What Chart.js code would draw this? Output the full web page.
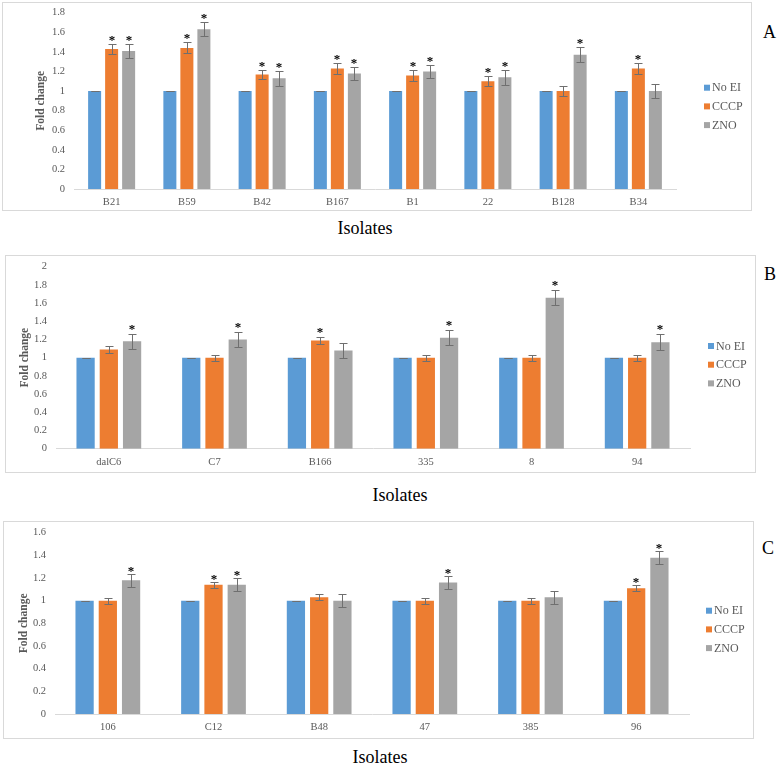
<!DOCTYPE html>
<html lang="en">
<head>
<meta charset="UTF-8">
<title>Fold change by isolate</title>
<script src="https://cdn.jsdelivr.net/npm/chart.js"></script>
<style>
    body {
        margin: 0;
        background: #fff;
        width: 777px;
        height: 764px;
        position: relative;
        overflow: hidden;
        font-family: "Liberation Serif", "Times New Roman", serif;
    }
    .box {
        position: absolute;
        border: 1px solid #d9d9d9;
        background: #fff;
    }
    .box canvas {
        display: block;
    }
    .xlabel, .tag {
        position: absolute;
        font-size: 18px;
        color: #000;
        line-height: 1;
        white-space: nowrap;
    }
    .xlabel {
        transform: translate(-50%, -50%);
    }
    .tag {
        transform: translateY(-50%);
    }
</style>
</head>
<body>
    <div class="box" style="left:2px;top:2px;width:748px;height:207px;"><canvas id="chartA" width="748" height="207"></canvas></div>
    <div class="xlabel" style="left:365px;top:228px;">Isolates</div>
    <div class="tag" style="left:763px;top:32px;">A</div>

    <div class="box" style="left:5px;top:255px;width:749px;height:216px;"><canvas id="chartB" width="749" height="216"></canvas></div>
    <div class="xlabel" style="left:400px;top:495px;">Isolates</div>
    <div class="tag" style="left:764px;top:274px;">B</div>

    <div class="box" style="left:3px;top:521px;width:749px;height:216px;"><canvas id="chartC" width="749" height="216"></canvas></div>
    <div class="xlabel" style="left:380px;top:757px;">Isolates</div>
    <div class="tag" style="left:762px;top:548px;">C</div>

<script>
    const SERIF = "'Liberation Serif', 'Times New Roman', serif";

    // series
    const seriesNames = ["No EI", "CCCP", "ZNO"];
    const seriesColors = ["#5B9BD5", "#ED7D31", "#A5A5A5"];

    // panel A
    const isolatesA = ["B21", "B59", "B42", "B167", "B1", "22", "B128", "B34"];
    const noEiA = [1, 1, 1, 1, 1, 1, 1, 1];
    const cccpA = [1.43, 1.44, 1.17, 1.23, 1.16, 1.10, 1.00, 1.23];
    const znoA = [1.41, 1.63, 1.13, 1.18, 1.20, 1.14, 1.37, 1.00];
    const noEiErrA = [0, 0, 0, 0, 0, 0, 0, 0];
    const cccpErrA = [0.055, 0.056, 0.05, 0.055, 0.055, 0.05, 0.055, 0.055];
    const znoErrA = [0.075, 0.07, 0.075, 0.07, 0.07, 0.075, 0.075, 0.07];
    const cccpStarA = [1, 1, 1, 1, 1, 1, 0, 1];
    const znoStarA = [1, 1, 1, 1, 1, 1, 1, 0];

    // panel B
    const isolatesB = ["dalC6", "C7", "B166", "335", "8", "94"];
    const noEiB = [1, 1, 1, 1, 1, 1];
    const cccpB = [1.09, 1.00, 1.19, 1.00, 1.00, 1.00];
    const znoB = [1.18, 1.20, 1.08, 1.22, 1.66, 1.17];
    const noEiErrB = [0, 0, 0, 0, 0, 0];
    const cccpErrB = [0.035, 0.035, 0.035, 0.035, 0.035, 0.035];
    const znoErrB = [0.085, 0.085, 0.085, 0.085, 0.085, 0.085];
    const cccpStarB = [0, 0, 1, 0, 0, 0];
    const znoStarB = [1, 1, 0, 1, 1, 1];

    // panel C
    const isolatesC = ["106", "C12", "B48", "47", "385", "96"];
    const noEiC = [1, 1, 1, 1, 1, 1];
    const cccpC = [1.00, 1.14, 1.03, 1.00, 1.00, 1.11];
    const znoC = [1.18, 1.14, 1.00, 1.16, 1.03, 1.38];
    const noEiErrC = [0, 0, 0, 0, 0, 0];
    const cccpErrC = [0.028, 0.028, 0.028, 0.028, 0.028, 0.028];
    const znoErrC = [0.057, 0.057, 0.057, 0.057, 0.057, 0.057];
    const cccpStarC = [0, 1, 0, 0, 0, 1];
    const znoStarC = [1, 1, 0, 1, 0, 1];

    const yTicksA = { max: 1.8, step: 0.2 };
    const yTicksB = { max: 2, step: 0.2 };
    const yTicksC = { max: 1.6, step: 0.2 };

    // error bars, asterisks and the side legend
    const extrasPlugin = {
        id: "extras",
        afterDatasetsDraw(chart, args, opts) {
            const ctx = chart.ctx;
            const y = chart.scales.y;
            ctx.save();
            chart.data.datasets.forEach((ds, i) => {
                const meta = chart.getDatasetMeta(i);
                meta.data.forEach((bar, j) => {
                    const v = ds.data[j], e = ds.err[j];
                    const top = Math.round(y.getPixelForValue(v + e)) + 0.5;
                    const bot = Math.round(y.getPixelForValue(v - e)) + 0.5;
                    const x = Math.round(bar.x) + 0.5;
                    ctx.strokeStyle = "#6f6f6f";
                    ctx.lineWidth = 1;
                    ctx.beginPath();
                    ctx.moveTo(x, top); ctx.lineTo(x, bot);
                    ctx.moveTo(x - opts.cap, top); ctx.lineTo(x + opts.cap, top);
                    ctx.moveTo(x - opts.cap, bot); ctx.lineTo(x + opts.cap, bot);
                    ctx.stroke();
                    if (ds.star[j]) {
                        ctx.fillStyle = "#000";
                        ctx.font = "bold 13px " + SERIF;
                        ctx.textAlign = "center";
                        ctx.textBaseline = "alphabetic";
                        ctx.fillText("*", Math.round(bar.x), top - opts.starGap);
                    }
                });
            });
            // legend
            ctx.font = "12px " + SERIF;
            ctx.textAlign = "left";
            ctx.textBaseline = "middle";
            chart.data.datasets.forEach((ds, i) => {
                const cy = opts.legY + i * opts.legStep;
                ctx.fillStyle = ds.backgroundColor;
                ctx.fillRect(opts.legX, cy - 3, 6, 6);
                ctx.fillStyle = "#595959";
                ctx.fillText(ds.label, opts.legX + 8, cy + 0.5);
            });
            ctx.restore();
        }
    };

    function makeChart(id, labels, values, errs, stars, ticks, geo) {
        const canvas = document.getElementById(id);
        const W = canvas.width, H = canvas.height;
        return new Chart(canvas, {
            type: "bar",
            data: {
                labels: labels,
                datasets: seriesNames.map((name, i) => ({
                    label: name,
                    data: values[i],
                    err: errs[i],
                    star: stars[i],
                    backgroundColor: seriesColors[i],
                    categoryPercentage: geo.catPct,
                    barPercentage: geo.barPct
                }))
            },
            options: {
                responsive: false,
                animation: false,
                devicePixelRatio: 1,
                layout: { padding: { left: 0, top: geo.top, right: W - geo.right, bottom: 0 } },
                plugins: {
                    legend: { display: false },
                    tooltip: { enabled: false },
                    extras: { cap: 4, starGap: geo.starGap, legX: geo.legX, legY: geo.legY, legStep: geo.legStep }
                },
                scales: {
                    x: {
                        grid: { display: false, drawTicks: false },
                        border: { display: true, color: "#d9d9d9", width: 1 },
                        ticks: { color: "#595959", padding: 7, font: { family: SERIF, size: 10.5 } },
                        afterFit: s => { s.height = H - geo.bottom; }
                    },
                    y: {
                        min: 0,
                        max: ticks.max,
                        grid: { display: false, drawTicks: false },
                        border: { display: false },
                        ticks: {
                            stepSize: ticks.step,
                            color: "#595959",
                            padding: 9,
                            font: { family: SERIF, size: 10.5 },
                            callback: v => String(Number(v.toFixed(1)))
                        },
                        title: {
                            display: true,
                            text: "Fold change",
                            color: "#595959",
                            font: { family: SERIF, size: 11.5, weight: "bold", lineHeight: 1 },
                            padding: { top: geo.titleX - 5.75, bottom: 0 }
                        },
                        afterFit: s => { s.width = geo.left; s.paddingTop = 0; s.paddingBottom = 0; }
                    }
                }
            },
            plugins: [extrasPlugin]
        });
    }

    // geometry is relative to each canvas
    makeChart("chartA", isolatesA, [noEiA, cccpA, znoA], [noEiErrA, cccpErrA, znoErrA], [[], cccpStarA, znoStarA], yTicksA,
        { left: 71, right: 673, top: 9.7, bottom: 186, catPct: 0.678, barPct: 0.765, titleX: 37.7, starGap: 1, legX: 701, legY: 84.7, legStep: 18.7 });
    makeChart("chartB", isolatesB, [noEiB, cccpB, znoB], [noEiErrB, cccpErrB, znoErrB], [[], cccpStarB, znoStarB], yTicksB,
        { left: 50, right: 684, top: 10.7, bottom: 192.7, catPct: 0.66, barPct: 0.785, titleX: 19, starGap: 1.5, legX: 702, legY: 90, legStep: 18.7 });
    makeChart("chartC", isolatesC, [noEiC, cccpC, znoC], [noEiErrC, cccpErrC, znoErrC], [[], cccpStarC, znoStarC], yTicksC,
        { left: 51, right: 685, top: 10.7, bottom: 192, catPct: 0.66, barPct: 0.785, titleX: 20, starGap: 0, legX: 702, legY: 88.7, legStep: 18.7 });
</script>
</body>
</html>
